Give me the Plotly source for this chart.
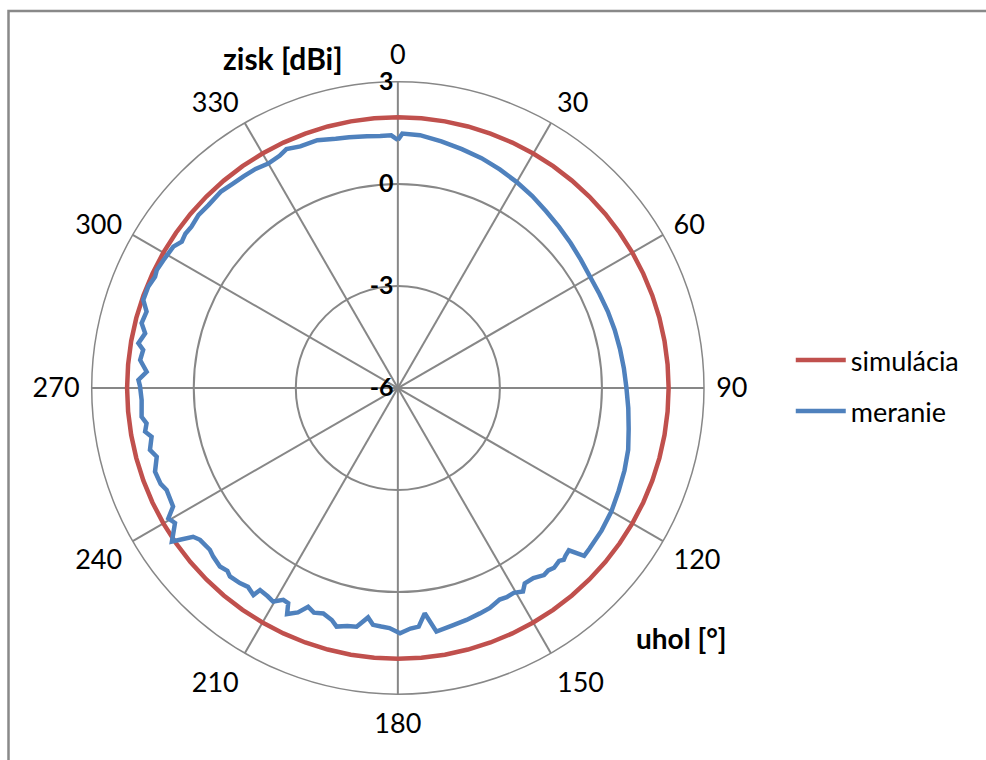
import plotly.graph_objects as go

# ---- data ----
angle_ticks = [0, 30, 60, 90, 120, 150, 180, 210, 240, 270, 300, 330]
angle_labels = ["0", "30", "60", "90", "120", "150", "180", "210", "240", "270", "300", "330"]
radial_ticks = [-6, -3, 0, 3]
radial_labels = ["-6", "-3", "0", "3"]

sim_theta = [0, 5, 10, 15, 20, 25, 30, 35, 40, 45, 50, 55, 60, 65, 70, 75, 80, 85, 90,
             95, 100, 105, 110, 115, 120, 125, 130, 135, 140, 145, 150, 155, 160, 165, 170, 175, 180,
             185, 190, 195, 200, 205, 210, 215, 220, 225, 230, 235, 240, 245, 250, 255, 260, 265, 270,
             275, 280, 285, 290, 295, 300, 305, 310, 315, 320, 325, 330, 335, 340, 345, 350, 355, 360]
sim_gain = [1.96, 1.96, 1.96, 1.96, 1.96, 1.96, 1.96, 1.96, 1.96, 1.96, 1.96, 1.96, 1.96, 1.96, 1.96, 1.96, 1.96, 1.96, 1.96,
            1.96, 1.96, 1.96, 1.96, 1.96, 1.96, 1.96, 1.96, 1.96, 1.96, 1.96, 1.96, 1.96, 1.96, 1.96, 1.96, 1.96, 1.96,
            1.96, 1.96, 1.96, 1.96, 1.96, 1.96, 1.96, 1.96, 1.96, 1.96, 1.96, 1.96, 1.96, 1.96, 1.96, 1.96, 1.96, 1.96,
            1.96, 1.96, 1.96, 1.96, 1.96, 1.96, 1.96, 1.96, 1.96, 1.96, 1.96, 1.96, 1.96, 1.96, 1.96, 1.96, 1.96, 1.96]

meas_theta = [0, 1, 5, 10, 15, 20, 25, 30, 35, 40, 45, 50, 55, 60, 65, 70, 75, 80, 85, 90,
              95, 100, 105, 110, 115, 120, 125, 130, 132, 133.5, 135, 136, 137, 139, 140.5, 142,
              144.5, 147, 148.4, 150.5, 152.5, 154.3, 157.3, 160, 163.5, 167, 171, 173.2, 175, 177,
              179.5, 182, 184, 186, 187.4, 189.8, 192, 194.4, 195.9, 198.3, 200.5, 202.3, 204, 206.1,
              207, 208.4, 210.3, 212, 214.3, 214.9, 217, 219, 221.7, 223, 224.9, 227.6, 229.3, 232.5,
              234, 235.8, 238.8, 240.4, 242.2, 246.2, 248, 251, 254.1, 256, 258.8, 260.2, 262, 263.6,
              267.3, 270.4, 271.8, 273.7, 276.2, 278.5, 279.8, 282.2, 284.2, 286.9, 289.1, 292.1,
              294.6, 296.1, 298.6, 300.4, 302.2, 304.1, 306, 308, 311, 314, 318, 321, 324, 327, 330,
              333, 335, 338, 342, 346, 349, 353, 356, 358.5, 360]
meas_gain = [1.29, 1.48, 1.46, 1.36, 1.27, 1.19, 1.09, 0.99, 0.89, 0.78, 0.70, 0.63, 0.57, 0.53, 0.54, 0.57, 0.60, 0.63, 0.67, 0.72,
             0.80, 0.89, 1.01, 1.09, 1.16, 1.25, 1.31, 1.35, 1.37, 0.93, 0.97, 1.02, 0.95, 1.00, 0.95, 0.98,
             0.86, 0.85, 1.02, 0.92, 0.93, 0.90, 1.01, 1.05, 1.11, 1.16, 1.25, 0.67, 1.04, 1.08,
             1.21, 1.06, 1.03, 1.00, 0.80, 1.12, 1.15, 1.24, 1.09, 0.98, 1.05, 0.95, 1.22, 1.40,
             1.10, 1.08, 1.27, 1.22, 1.19, 1.42, 1.32, 1.38, 1.42, 1.35, 1.41, 1.35, 1.29, 1.33,
             1.44, 2.03, 1.66, 1.76, 1.47, 1.43, 1.52, 1.55, 1.37, 1.51, 1.38, 1.54, 1.46, 1.58,
             1.54, 1.58, 1.63, 1.40, 1.62, 1.57, 1.74, 1.60, 1.77, 1.72, 1.92, 1.92,
             1.85, 1.89, 1.85, 1.82, 1.80, 1.67, 1.72, 1.70, 1.76, 1.74, 1.77, 1.72, 1.70, 1.68, 1.62,
             1.66, 1.75, 1.66, 1.66, 1.55, 1.51, 1.46, 1.43, 1.43, 1.29]

FONT = "Lato"
GRID = "#878787"

fig = go.Figure()
fig.add_trace(go.Scatterpolar(
    r=sim_gain, theta=sim_theta, mode="lines", name="simulácia",
    line=dict(color="#C0504D", width=4.5), legendgroup="a"))
fig.add_trace(go.Scatterpolar(
    r=meas_gain, theta=meas_theta, mode="lines", name="meranie",
    line=dict(color="#4F81BD", width=4.5), legendgroup="b"))

fig.update_layout(
    width=986, height=760,
    margin=dict(l=0, r=0, t=0, b=0),
    paper_bgcolor="white",
    font=dict(family=FONT, size=26, color="black"),
    polar=dict(
        domain=dict(x=[0.093, 0.714], y=[0.0864, 0.8925]),
        bgcolor="white",
        angularaxis=dict(
            rotation=90, direction="clockwise",
            tickmode="array", tickvals=angle_ticks, ticktext=angle_labels,
            tickfont=dict(family=FONT, size=27, color="black"),
            showgrid=True, gridcolor=GRID, gridwidth=1.5,
            showline=True, linecolor=GRID, linewidth=1.5,
            ticks="outside", ticklen=6, tickcolor="rgba(0,0,0,0)",
        ),
        radialaxis=dict(
            range=[-6, 3], angle=90, side="counterclockwise",
            tickmode="array", tickvals=radial_ticks, ticktext=radial_labels,
            tickfont=dict(family=FONT, size=25, color="black", weight="bold"),
            showgrid=True, gridcolor=GRID, gridwidth=1.5,
            showline=False, ticks="", tickangle=90,
        ),
    ),
    showlegend=True,
    legend=dict(
        x=0.802, y=0.558, xanchor="left", yanchor="top",
        font=dict(family=FONT, size=27, color="black"),
        bgcolor="rgba(0,0,0,0)", tracegroupgap=13, itemwidth=50,
    ),
    annotations=[
        dict(text="<b>zisk [dBi]</b>", x=283 / 986, y=1 - 58 / 760, xref="paper", yref="paper",
             xanchor="center", yanchor="middle",
             showarrow=False, font=dict(family=FONT, size=30, color="black")),
        dict(text="<b>uhol [°]</b>", x=681 / 986, y=1 - 638 / 760, xref="paper", yref="paper",
             xanchor="center", yanchor="middle",
             showarrow=False, font=dict(family=FONT, size=28, color="black")),
    ],
    shapes=[
        dict(type="rect", xref="paper", yref="paper",
             x0=8.5 / 986, y0=1 - 11 / 760, x1=1.1, y1=-0.1,
             line=dict(color="#898989", width=2.5), fillcolor="rgba(0,0,0,0)", layer="below"),
    ],
)

fig.write_html("out.html")
